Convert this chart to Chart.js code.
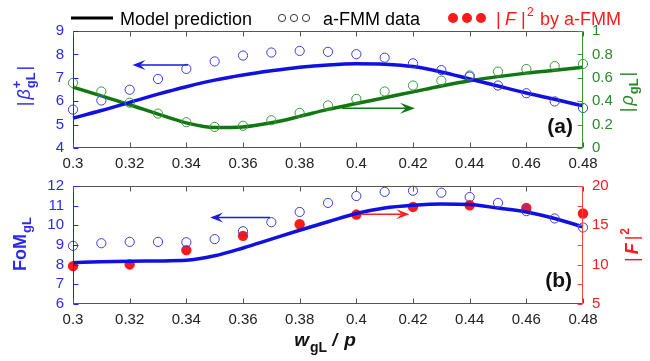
<!DOCTYPE html>
<html>
<head>
<meta charset="utf-8">
<script src="https://cdn.jsdelivr.net/npm/chart.js@4.4.1/dist/chart.umd.min.js"></script>
<style>
html, body { margin: 0; padding: 0; background: #fff; }
#wrap { position: relative; width: 650px; height: 361px; }
#wrap canvas { position: absolute; left: 0; top: 0; }
</style>
</head>
<body>
<div id="wrap">
  <canvas id="topChart" width="650" height="361"></canvas>
  <canvas id="bottomChart" width="650" height="361"></canvas>
</div>
<script>
// x values (w_gL / p)
const widths = [0.30, 0.31, 0.32, 0.33, 0.34, 0.35, 0.36, 0.37, 0.38, 0.39,
                0.40, 0.41, 0.42, 0.43, 0.44, 0.45, 0.46, 0.47, 0.48];
const fWidths = [0.30, 0.32, 0.34, 0.36, 0.38, 0.40, 0.42, 0.44, 0.46, 0.48];
const xTicks = [0.30, 0.32, 0.34, 0.36, 0.38, 0.40, 0.42, 0.44, 0.46, 0.48];

// panel (a)
const betaModel = [5.28, 5.60, 5.95, 6.30, 6.62, 6.90, 7.12, 7.30, 7.45, 7.55,
                   7.60, 7.58, 7.48, 7.25, 6.95, 6.65, 6.35, 6.08, 5.80];
const betaFmm = [5.64, 6.03, 6.49, 6.95, 7.38, 7.70, 7.95, 8.08, 8.15, 8.11,
                 8.01, 7.86, 7.62, 7.33, 7.05, 6.67, 6.34, 5.99, 5.71];
const rhoModel = [0.52, 0.445, 0.37, 0.29, 0.215, 0.175, 0.18, 0.215, 0.27, 0.33,
                  0.38, 0.43, 0.48, 0.53, 0.575, 0.61, 0.64, 0.665, 0.69];
const rhoFmm = [0.557, 0.483, 0.387, 0.294, 0.22, 0.18, 0.19, 0.237, 0.30, 0.364,
                0.42, 0.483, 0.534, 0.576, 0.62, 0.653, 0.675, 0.70, 0.718];
const betaTicks = [4, 5, 6, 7, 8, 9];
const rhoTicks = [0, 0.2, 0.4, 0.6, 0.8, 1];

// panel (b)
const fomModel = [8.10, 8.15, 8.18, 8.19, 8.22, 8.45, 8.85, 9.30, 9.75, 10.18,
                  10.60, 10.88, 11.02, 11.09, 11.06, 10.88, 10.68, 10.35, 9.92];
const fomFmm = [8.96, 9.09, 9.16, 9.16, 9.14, 9.30, 9.70, 10.16, 10.68, 11.14,
                11.49, 11.70, 11.76, 11.66, 11.44, 11.14, 10.72, 10.35, 9.89];
const fSquared = [9.82, 10.03, 11.85, 13.66, 15.14, 16.37, 17.34, 17.55, 17.21, 16.5];
const fomTicks = [6, 7, 8, 9, 10, 11, 12];
const fTicks = [5, 7.5, 10, 12.5, 15, 17.5, 20];

const FONT = "'Liberation Sans', Arial, sans-serif";
const lineBlue = '#1010e0';
const circBlue = '#3c3ce6';
const tickBlue = '#2a2af0';
const lineGreen = '#117711';
const circGreen = '#3a9a3a';
const tickGreen = '#2a8a2a';
const red = '#ff1a1a';

function pts(xs, ys) {
    return xs.map((x, i) => ({ x: x, y: ys[i] }));
}

function fixTicks(list) {
    return s => { s.ticks = list.map(v => ({ value: v })); };
}

function fmt(v) {
    return String(+v.toFixed(2));
}

// text made of pieces (sub / superscripts), optionally rotated
function drawRich(ctx, parts, x, y, rot) {
    ctx.save();
    ctx.translate(x, y);
    ctx.rotate(rot || 0);
    ctx.textBaseline = 'alphabetic';
    ctx.textAlign = 'left';
    let total = 0;
    parts.forEach(p => {
        ctx.font = p.font;
        p.w = ctx.measureText(p.t).width;
        if (!p.stay) total += p.w + (p.gap || 0);
    });
    let cx = -total / 2;
    parts.forEach(p => {
        ctx.font = p.font;
        ctx.fillStyle = p.color;
        ctx.fillText(p.t, cx, p.dy || 0);
        if (!p.stay) cx += p.w + (p.gap || 0);
    });
    ctx.restore();
}

function arrow(ctx, x0, x1, y, color, L, W) {
    const dir = Math.sign(x1 - x0);
    ctx.strokeStyle = color;
    ctx.fillStyle = color;
    ctx.lineWidth = 1.5;
    ctx.beginPath();
    ctx.moveTo(x0, y);
    ctx.lineTo(x1 - dir * L * 0.6, y);
    ctx.stroke();
    ctx.beginPath();
    ctx.moveTo(x1, y);
    ctx.lineTo(x1 - dir * L, y - W);
    ctx.lineTo(x1 - dir * L * 0.6, y);
    ctx.lineTo(x1 - dir * L, y + W);
    ctx.closePath();
    ctx.fill();
}

// box, inward ticks, arrows, labels
const decorPlugin = {
    id: 'decor',
    afterDatasetsDraw(chart, args, opts) {
        const { ctx, chartArea: a, scales } = chart;
        const L = Math.round(a.left) + 0.5, R = Math.round(a.right) - 0.5;
        const T = Math.round(a.top) + 0.5, B = Math.round(a.bottom) - 0.5;
        ctx.save();
        ctx.lineWidth = 1;
        const seg = (x0, y0, x1, y1, c) => {
            ctx.strokeStyle = c;
            ctx.beginPath(); ctx.moveTo(x0, y0); ctx.lineTo(x1, y1); ctx.stroke();
        };
        seg(L, T, R, T, '#555');
        seg(L, B, R, B, '#555');
        seg(L, T, L, B, opts.leftColor);
        seg(R, T, R, B, opts.rightColor);
        scales.x.ticks.forEach(t => {
            const px = Math.round(scales.x.getPixelForValue(t.value)) + 0.5;
            seg(px, B, px, B - 5, '#555');
            seg(px, T, px, T + 5, '#555');
        });
        scales.yL.ticks.forEach(t => {
            const py = Math.round(scales.yL.getPixelForValue(t.value)) + 0.5;
            seg(L, py, L + 5, py, opts.leftColor);
        });
        scales.yR.ticks.forEach(t => {
            const py = Math.round(scales.yR.getPixelForValue(t.value)) + 0.5;
            seg(R, py, R - 5, py, opts.rightColor);
        });

        (opts.arrows || []).forEach(ar => {
            const y = scales[ar.axis].getPixelForValue(ar.y);
            arrow(ctx, scales.x.getPixelForValue(ar.from), scales.x.getPixelForValue(ar.to),
                  y, ar.color, ar.len, ar.half);
        });

        if (opts.panel) {
            ctx.font = 'bold 21px ' + FONT;
            ctx.fillStyle = '#111';
            ctx.textAlign = 'right';
            ctx.textBaseline = 'alphabetic';
            ctx.fillText(opts.panel.text, opts.panel.x, opts.panel.y);
        }
        (opts.titles || []).forEach(tt => drawRich(ctx, tt.parts, tt.x, tt.y, tt.rot));

        if (opts.legend) {
            const lg = opts.legend;
            ctx.strokeStyle = '#000';
            ctx.lineWidth = 3;
            ctx.beginPath(); ctx.moveTo(71, lg.y); ctx.lineTo(113, lg.y); ctx.stroke();
            ctx.lineWidth = 1;
            ctx.strokeStyle = '#333';
            [282, 294, 306].forEach(cx => {
                ctx.beginPath(); ctx.arc(cx, lg.y, 3.6, 0, Math.PI * 2); ctx.stroke();
            });
            ctx.fillStyle = red;
            [453, 467, 481].forEach(cx => {
                ctx.beginPath(); ctx.arc(cx, lg.y, 5, 0, Math.PI * 2); ctx.fill();
            });
            ctx.textAlign = 'left';
            ctx.textBaseline = 'alphabetic';
            ctx.font = '18px ' + FONT;
            ctx.fillStyle = '#000';
            ctx.fillText('Model prediction', 120, lg.y + 7);
            ctx.fillText('a-FMM data', 323, lg.y + 7);
            ctx.fillStyle = red;
            ctx.fillText('|', 496, lg.y + 7);
            ctx.font = 'italic 18px ' + FONT;
            ctx.fillText('F', 505, lg.y + 7);
            ctx.font = '18px ' + FONT;
            ctx.fillText('|', 521, lg.y + 7);
            ctx.font = '12px ' + FONT;
            ctx.fillText('2', 527, lg.y - 2);
            ctx.font = '18px ' + FONT;
            ctx.fillText('by a-FMM', 540, lg.y + 7);
        }
        ctx.restore();
    }
};

function xScale(height) {
    return {
        type: 'linear', min: 0.3, max: 0.48,
        afterBuildTicks: fixTicks(xTicks),
        afterFit: s => { s.height = height; },
        grid: { display: false, drawTicks: false },
        border: { display: false },
        ticks: { autoSkip: false, maxRotation: 0, padding: 7, color: '#222',
                 font: { family: FONT, size: 15 }, callback: fmt }
    };
}

function yScale(pos, min, max, list, color, width, cb) {
    return {
        type: 'linear', position: pos, min: min, max: max,
        afterBuildTicks: fixTicks(list),
        afterFit: s => { s.width = width; },
        grid: { display: false, drawTicks: false },
        border: { display: false },
        ticks: { autoSkip: false, padding: 9, color: color,
                 font: { family: FONT, size: 15 }, callback: cb || fmt }
    };
}

const lineDs = (data, axis, color) => ({
    data: data, yAxisID: axis, borderColor: color, borderWidth: 3.5,
    pointRadius: 0, cubicInterpolationMode: 'monotone', clip: false, fill: false
});
const circleDs = (data, axis, color) => ({
    data: data, yAxisID: axis, showLine: false, pointRadius: 4.6,
    pointBorderWidth: 1, pointBorderColor: color, pointBackgroundColor: 'rgba(0,0,0,0)', clip: false
});

const sub = 'bold 13px ' + FONT;

new Chart(document.getElementById('topChart'), {
    type: 'line',
    data: {
        datasets: [
            circleDs(pts(widths, betaFmm), 'yL', circBlue),
            circleDs(pts(widths, rhoFmm), 'yR', circGreen),
            lineDs(pts(widths, betaModel), 'yL', lineBlue),
            lineDs(pts(widths, rhoModel), 'yR', lineGreen)
        ]
    },
    options: {
        responsive: false, animation: false, events: [],
        layout: { padding: { top: 31, left: 0, right: 0, bottom: 0 } },
        plugins: {
            legend: { display: false },
            tooltip: { enabled: false },
            decor: {
                leftColor: '#2020f0', rightColor: '#3a9a3a',
                legend: { y: 18 },
                panel: { text: '(a)', x: 573, y: 133 },
                arrows: [
                    { axis: 'yL', y: 7.55, from: 0.3406, to: 0.321, color: '#1a1ae6', len: 13, half: 5 },
                    { axis: 'yR', y: 0.34, from: 0.395, to: 0.4207, color: '#117711', len: 15, half: 5.5 }
                ],
                titles: [
                    { x: 30, y: 86, rot: -Math.PI / 2, parts: [
                        { t: '|', font: '18px ' + FONT, color: tickBlue, gap: 2 },
                        { t: '\u03B2', font: 'italic 18px ' + FONT, color: tickBlue, gap: 1 },
                        { t: '+', font: sub, color: tickBlue, dy: -9, stay: true },
                        { t: 'gL', font: sub, color: tickBlue, dy: 5, gap: 2 },
                        { t: '|', font: '18px ' + FONT, color: tickBlue }
                    ] },
                    { x: 633, y: 92, rot: -Math.PI / 2, parts: [
                        { t: '|', font: '18px ' + FONT, color: tickGreen, gap: 2 },
                        { t: '\u03C1', font: 'italic 18px ' + FONT, color: tickGreen, gap: 1 },
                        { t: 'gL', font: sub, color: tickGreen, dy: 5, gap: 2 },
                        { t: '|', font: '18px ' + FONT, color: tickGreen }
                    ] }
                ]
            }
        },
        scales: {
            x: xScale(361 - 148),
            yL: yScale('left', 4, 9, betaTicks, tickBlue, 73),
            yR: yScale('right', 0, 1, rhoTicks, tickGreen, 67)
        }
    },
    plugins: [decorPlugin]
});

new Chart(document.getElementById('bottomChart'), {
    type: 'line',
    data: {
        datasets: [
            circleDs(pts(widths, fomFmm), 'yL', circBlue),
            lineDs(pts(widths, fomModel), 'yL', lineBlue),
            {
                data: pts(fWidths, fSquared), yAxisID: 'yR', showLine: false, pointRadius: 5.2,
                pointBorderWidth: 0, pointBackgroundColor: red, clip: false
            }
        ]
    },
    options: {
        responsive: false, animation: false, events: [],
        layout: { padding: { top: 186, left: 0, right: 0, bottom: 0 } },
        plugins: {
            legend: { display: false },
            tooltip: { enabled: false },
            decor: {
                leftColor: '#2020f0', rightColor: '#ff4040',
                panel: { text: '(b)', x: 572, y: 287 },
                arrows: [
                    { axis: 'yL', y: 10.4, from: 0.3695, to: 0.3484, color: '#1a1ae6', len: 13, half: 5 },
                    { axis: 'yR', y: 16.4, from: 0.4019, to: 0.4187, color: '#ff2020', len: 13, half: 5 }
                ],
                titles: [
                    { x: 26, y: 244, rot: -Math.PI / 2, parts: [
                        { t: 'FoM', font: 'bold 18px ' + FONT, color: tickBlue, gap: 1 },
                        { t: 'gL', font: sub, color: tickBlue, dy: 5 }
                    ] },
                    { x: 638, y: 245, rot: -Math.PI / 2, parts: [
                        { t: '|', font: '18px ' + FONT, color: red, gap: 3 },
                        { t: 'F', font: 'bold italic 18px ' + FONT, color: red, gap: 3 },
                        { t: '|', font: '18px ' + FONT, color: red, gap: 1 },
                        { t: '2', font: 'bold 12px ' + FONT, color: red, dy: -9 }
                    ] },
                    { x: 325, y: 346, rot: 0, parts: [
                        { t: 'w', font: 'bold italic 19px ' + FONT, color: '#111', gap: 1 },
                        { t: 'gL', font: 'bold 14px ' + FONT, color: '#111', dy: 6, gap: 5 },
                        { t: '/', font: 'bold italic 18px ' + FONT, color: '#111', gap: 7 },
                        { t: 'p', font: 'bold italic 19px ' + FONT, color: '#111' }
                    ] }
                ]
            }
        },
        scales: {
            x: xScale(361 - 304),
            yL: yScale('left', 6, 12, fomTicks, tickBlue, 73),
            yR: yScale('right', 5, 20, fTicks, red, 67, v => (v % 5 === 0 ? String(v) : ''))
        }
    },
    plugins: [decorPlugin]
});
</script>
</body>
</html>
